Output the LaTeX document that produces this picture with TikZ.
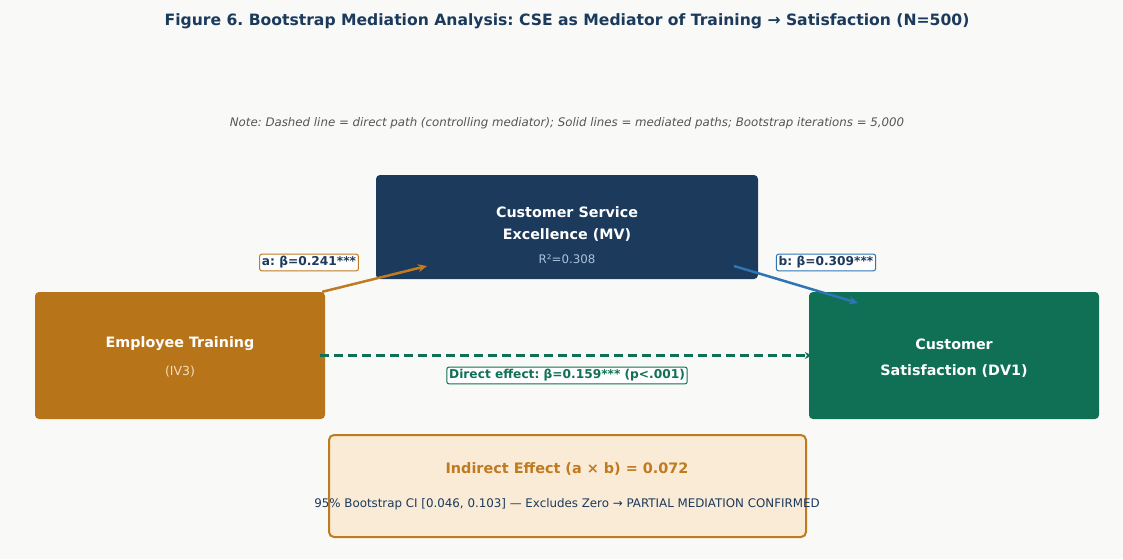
\documentclass[tikz,border=0pt]{standalone}
\usepackage{fontspec}
\setmainfont{DejaVu Sans}
\usetikzlibrary{arrows.meta}
\frenchspacing
\definecolor{bg}{HTML}{F9F9F7}
\definecolor{navy}{HTML}{1B3A5C}
\definecolor{orng}{HTML}{B87418}
\definecolor{orline}{HTML}{C07A20}
\definecolor{teal}{HTML}{107055}
\definecolor{blu}{HTML}{2E75B6}
\definecolor{cream}{HTML}{FAEBD7}
\definecolor{notegray}{HTML}{555555}
\definecolor{rtwo}{HTML}{A9C2DE}
\definecolor{ivsub}{HTML}{F2DCC0}
\tikzset{
  box/.style={rounded corners=3pt, inner sep=0pt},
  boxtitle/.style={font=\fontsize{14.3}{17}\selectfont\bfseries, text=white, align=center},
  pathlabel/.style={draw, line width=1pt, rounded corners=2pt, fill=white, inner sep=2.3pt, font=\fontsize{12.2}{14}\selectfont\bfseries},
  patharrow/.style={line width=2.5pt, -{Stealth[length=9pt,width=8pt]}},
}
\begin{document}
\begin{tikzpicture}[x=1pt,y=-1pt]
\useasboundingbox (0,0) rectangle (1123,559);
\fill[bg] (0,0) rectangle (1123,559);
\node[font=\fontsize{15.6}{18}\selectfont\bfseries, text=navy] (title) at (567,21) {Figure 6. Bootstrap Mediation Analysis: CSE as Mediator of Training → Satisfaction (N=500)};
\node[font=\fontsize{11.8}{14}\selectfont\itshape, text=notegray] (note) at (567,123) {Note: Dashed line = direct path (controlling mediator); Solid lines = mediated paths; Bootstrap iterations = 5,000};
% boxes
\fill[navy, rounded corners=4pt] (376,175) rectangle (758,279);
\node[box, minimum width=382pt, minimum height=104pt] (MV) at (567,227) {};
\node[boxtitle] (mvt1) at (567,212) {Customer Service};
\node[boxtitle] (mvt2) at (567,235) {Excellence (MV)};
\node[font=\fontsize{11.8}{14}\selectfont, text=rtwo] (mvr) at (567,259) {R²=0.308};
\fill[orng, rounded corners=4pt] (35,292) rectangle (325,419);
\node[box, minimum width=290pt, minimum height=127pt] (IV) at (180,355.5) {};
\node[boxtitle] (ivt) at (180,344) {Employee Training};
\node[font=\fontsize{12.5}{15}\selectfont, text=ivsub] (ivs) at (180,372) {(IV3)};
\fill[teal, rounded corners=4pt] (809,292) rectangle (1099,419);
\node[box, minimum width=290pt, minimum height=127pt] (DV) at (954,355.5) {};
\node[boxtitle] (dvt1) at (954,344) {Customer};
\node[boxtitle] (dvt2) at (954,371) {Satisfaction (DV1)};
\draw[orline, fill=cream, line width=2pt, rounded corners=5pt] (329,435) rectangle (806,537);
\node[box, minimum width=477pt, minimum height=102pt] (IND) at (567.5,486) {};
\node[font=\fontsize{14.4}{17}\selectfont\bfseries, text=orline] (indt) at (567,469) {Indirect Effect (a × b) = 0.072};
\node[font=\fontsize{11.85}{14}\selectfont, text=navy] (indc) at (567,504) {95\% Bootstrap CI [0.046, 0.103] — Excludes Zero → PARTIAL MEDIATION CONFIRMED};
% connectors
\coordinate (aend) at (427,266);
\coordinate (bstart) at (734,266);
\coordinate (bend) at (858,303);
\draw[patharrow, orline] ([xshift=-3pt]IV.north east) -- (aend);
\draw[patharrow, blu] (bstart) -- (bend);
\draw[patharrow, teal, dashed, dash pattern=on 9pt off 5pt, -{Stealth[length=7pt,width=7pt]}] ([xshift=-5pt]IV.east) -- ([xshift=3pt]DV.west);
% labels
\node[pathlabel, draw=orline, text=navy] (la) at (309,262.5) {a: β=0.241***};
\node[pathlabel, draw=blu, text=navy] (lb) at (826,262.5) {b: β=0.309***};
\node[pathlabel, draw=teal, text=teal] (ld) at (567,375.5) {Direct effect: β=0.159*** (p<.001)};
\end{tikzpicture}
\end{document}
